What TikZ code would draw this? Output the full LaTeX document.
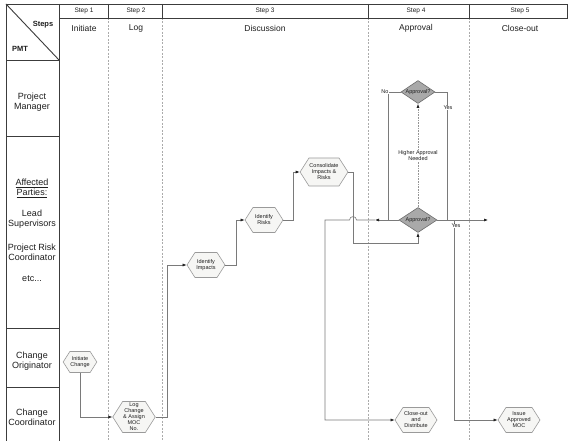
\documentclass[tikz,border=0pt]{standalone}
\usepackage{fontspec}
\setmainfont{Liberation Sans}
\usetikzlibrary{arrows.meta,shapes.symbols,shapes.geometric}
\definecolor{Ink}{HTML}{1E1E1E}
\definecolor{Frame}{HTML}{3C3C3C}
\definecolor{Wire}{HTML}{7A7A7A}
\definecolor{Hexfill}{HTML}{F6F6F4}
\definecolor{Hexline}{HTML}{9A9A9A}
\definecolor{Dia}{HTML}{A9A9A9}
\definecolor{Rule}{HTML}{ABABAB}

\begin{document}
\begin{tikzpicture}[x=1pt,y=-1pt,
  frame/.style={Frame,line width=0.9pt},
  lanerule/.style={Rule,dash pattern=on 2pt off 1.5pt,line width=0.5pt},
  hexbox/.style={signal,signal to=east and west,signal pointer angle=115,
    draw=Hexline,fill=Hexfill,line width=0.6pt,minimum width=38pt,minimum height=25pt,
    inner sep=0.5pt,align=center,text=Ink,font=\fontsize{5.5}{6}\selectfont},
  gate/.style={diamond,aspect=1.5,draw=Hexline!70!black,fill=Dia,line width=0.6pt,
    minimum width=38pt,minimum height=25pt,inner sep=0pt,text=Ink,font=\fontsize{5.5}{6}\selectfont},
  wire/.style={Wire,line width=0.6pt},
  flow/.style={wire,-{Latex[length=4pt,width=3pt,color=Ink]}},
  lbl/.style={fill=white,inner sep=0.5pt,align=center,text=Ink,font=\fontsize{5.5}{6}\selectfont},
  lane/.style={align=center,text=Ink,font=\fontsize{9}{10}\selectfont},
  steptag/.style={text=Ink,font=\fontsize{6.5}{7}\selectfont},
  stepname/.style={text=Ink,font=\fontsize{8.5}{9}\selectfont}]
  \useasboundingbox (0,0) rectangle (568,441);
  \fill[white] (0,0) rectangle (568,441);

  % grid of the chart
  \foreach \x in {108,162,368,469} {
    \draw[lanerule] (\x,18) -- (\x,441);
    \draw[frame] (\x,4) -- (\x,18);
  }
  \draw[frame] (6,441) -- (6,4) -- (567,4) -- (567,18) -- (59,18);
  \draw[frame] (59,4) -- (59,441);
  \draw[frame] (6,4) -- (59,60);
  \foreach \y in {60,136,328,387}
    \draw[frame] (6,\y) -- (59,\y);

  % headers
  \node[text=Ink,font=\bfseries\fontsize{7.5}{8}\selectfont] (stepscell) at (43,25) {Steps};
  \node[text=Ink,font=\bfseries\fontsize{7.5}{8}\selectfont] (pmtcell) at (20,49) {PMT};
  \foreach \x/\n/\name in {84/1/Initiate,136/2/Log,265/3/Discussion,416/4/Approval,520/5/Close-out} {
    \node[steptag] (step\n) at (\x,11) {Step \n};
    \node[stepname] (phase\n) at (\x,28) {\name};
  }

  % lanes
  \node[lane] (pmlane) at (32,102) {Project\\Manager};
  \node[lane] (afflane) at (32,188) {\underline{Affected}\\\underline{Parties:}};
  \node[lane] (leadlane) at (32,219) {Lead\\Supervisors};
  \node[lane] (risklane) at (32,252) {Project Risk\\Coordinator};
  \node[lane] (etclane) at (32,279) {etc...};
  \node[lane] (origlane) at (32,361) {Change\\Originator};
  \node[lane] (coordlane) at (32,417) {Change\\Coordinator};

  % process steps
  \node[hexbox,minimum width=32pt,minimum height=21pt] (initchg) at (80,362) {Initiate\\Change};
  \node[hexbox,minimum height=31pt] (logmoc) at (134,417) {Log\\Change\\\& Assign\\MOC\\No.};
  \node[hexbox] (impacts) at (206,265) {Identify\\Impacts};
  \node[hexbox] (risks) at (264,220) {Identify\\Risks};
  \node[hexbox,minimum width=40pt,minimum height=28pt] (consol) at (324,172) {Consolidate\\Impacts \&\\Risks};
  \node[gate,minimum width=34pt,minimum height=23pt] (apprtop) at (418,92) {Approval?};
  \node[gate] (apprlow) at (418,220) {Approval?};
  \node[hexbox,minimum width=42pt] (closeout) at (416,420) {Close-out\\and\\Distribute};
  \node[hexbox,minimum width=42pt] (issue) at (519,420) {Issue\\Approved\\MOC};

  % connectors
  \draw[flow] (initchg.south) |- (logmoc.west);
  \draw[flow] (logmoc.east) -- ++(12,0) |- (impacts.west);
  \draw[flow] (impacts.east) -- ++(11,0) |- (risks.west);
  \draw[flow] (risks.east) -- ++(10,0) |- (consol.west);
  \coordinate (consoldrop) at (353,243);
  \draw[flow] (consol.east) -| (consoldrop) -| (apprlow.south);

  \coordinate (rejmark) at (375,220);
  \coordinate (rejturn) at (325,220);
  \draw[flow] (apprlow.west) -- (rejmark);
  \draw[flow] (rejmark) -- (356.5,220) .. controls (356.5,215.5) and (349.5,215.5) .. (349.5,220)
    -- (rejturn) |- (closeout.west);

  \coordinate (nocorner) at (388,92);
  \coordinate (nojoin) at (388,220);
  \draw[wire] (apprtop.west) -- (nocorner) -- (nojoin);
  \node[lbl] (nolbl) at (385,92) {No};

  \coordinate (yescorner) at (447,92);
  \coordinate (yesjoin) at (447,220);
  \draw[wire] (apprtop.east) -- (yescorner) -- (yesjoin);
  \node[lbl] (yestop) at (448,108) {Yes};

  \coordinate (passend) at (488,220);
  \draw[flow] (apprlow.east) -- (passend);
  \coordinate (yesdrop) at (454,220);
  \draw[flow] (yesdrop) |- (issue.west);
  \node[lbl] (yeslow) at (456,226) {Yes};

  \draw[flow,Wire!80,dash pattern=on 0.7pt off 0.9pt] (apprlow.north) -- (apprtop.south)
    node[lbl,midway] (higher) {Higher Approval\\Needed};
\end{tikzpicture}
\end{document}
